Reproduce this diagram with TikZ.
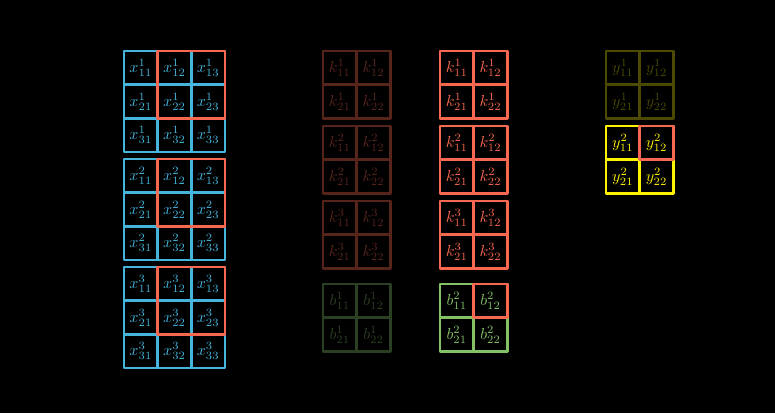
\documentclass[tikz,border=0pt]{standalone}
\usepackage{graphicx}
\definecolor{mblue}{HTML}{45B5DC}
\definecolor{mred}{HTML}{F8674F}
\definecolor{mgreen}{HTML}{83C167}
\definecolor{myellow}{HTML}{FFF200}
\newcommand{\lbl}[1]{\scalebox{1.6}{$#1$}}
\tikzset{
  cell/.style={draw, minimum size=33.67pt, inner sep=0pt, outer sep=0pt,
    line width=2.6pt, line join=round},
  xcell/.style={cell, draw=mblue, text=mblue},
  kdim/.style={cell, draw=mred!35!black, text=mred!35!black},
  kcell/.style={cell, draw=mred, text=mred},
  bdim/.style={cell, draw=mgreen!33!black, text=mgreen!33!black},
  bcell/.style={cell, draw=mgreen, text=mgreen},
  ydim/.style={cell, draw=myellow!30!black, text=myellow!30!black},
  ycell/.style={cell, draw=myellow, text=myellow},
  hilite/.style={draw=mred, line width=2.6pt, line join=round},
}
\begin{document}
\begin{tikzpicture}[x=1pt, y=-1pt]
\fill[black] (0,0) rectangle (775,413);
\useasboundingbox (0,0) rectangle (775,413);
\def\cs{33.67}
% x blocks
\foreach \b/\t in {1/51, 2/159, 3/267} {
  \foreach \r in {1,2,3} {
    \foreach \c in {1,2,3} {
      \node[xcell] (x\b-\r\c) at ({124+(\c-0.5)*\cs}, {\t+(\r-0.5)*\cs}) {\lbl{x^{\b}_{\r\c}}};
    }
  }
  \draw[hilite] (x\b-12.north west) rectangle (x\b-23.south east);
}
% k blocks dim and bright
\foreach \b/\t in {1/51, 2/126, 3/201} {
  \foreach \r in {1,2} {
    \foreach \c in {1,2} {
      \node[kdim] (kd\b-\r\c) at ({323+(\c-0.5)*\cs}, {\t+(\r-0.5)*\cs}) {\lbl{k^{\b}_{\r\c}}};
      \node[kcell] (k\b-\r\c) at ({440+(\c-0.5)*\cs}, {\t+(\r-0.5)*\cs}) {\lbl{k^{\b}_{\r\c}}};
    }
  }
}
% b blocks
\foreach \r in {1,2} {
  \foreach \c in {1,2} {
    \node[bdim] (bd-\r\c) at ({323+(\c-0.5)*\cs}, {284+(\r-0.5)*\cs}) {\lbl{b^{1}_{\r\c}}};
    \node[bcell] (b-\r\c) at ({440+(\c-0.5)*\cs}, {284+(\r-0.5)*\cs}) {\lbl{b^{2}_{\r\c}}};
  }
}
\draw[hilite] (b-12.north west) rectangle (b-12.south east);
% y blocks
\foreach \r in {1,2} {
  \foreach \c in {1,2} {
    \node[ydim] (yd-\r\c) at ({606+(\c-0.5)*\cs}, {51+(\r-0.5)*\cs}) {\lbl{y^{1}_{\r\c}}};
    \node[ycell] (y-\r\c) at ({606+(\c-0.5)*\cs}, {126+(\r-0.5)*\cs}) {\lbl{y^{2}_{\r\c}}};
  }
}
\draw[hilite] (y-12.north west) rectangle (y-12.south east);
\end{tikzpicture}
\end{document}
